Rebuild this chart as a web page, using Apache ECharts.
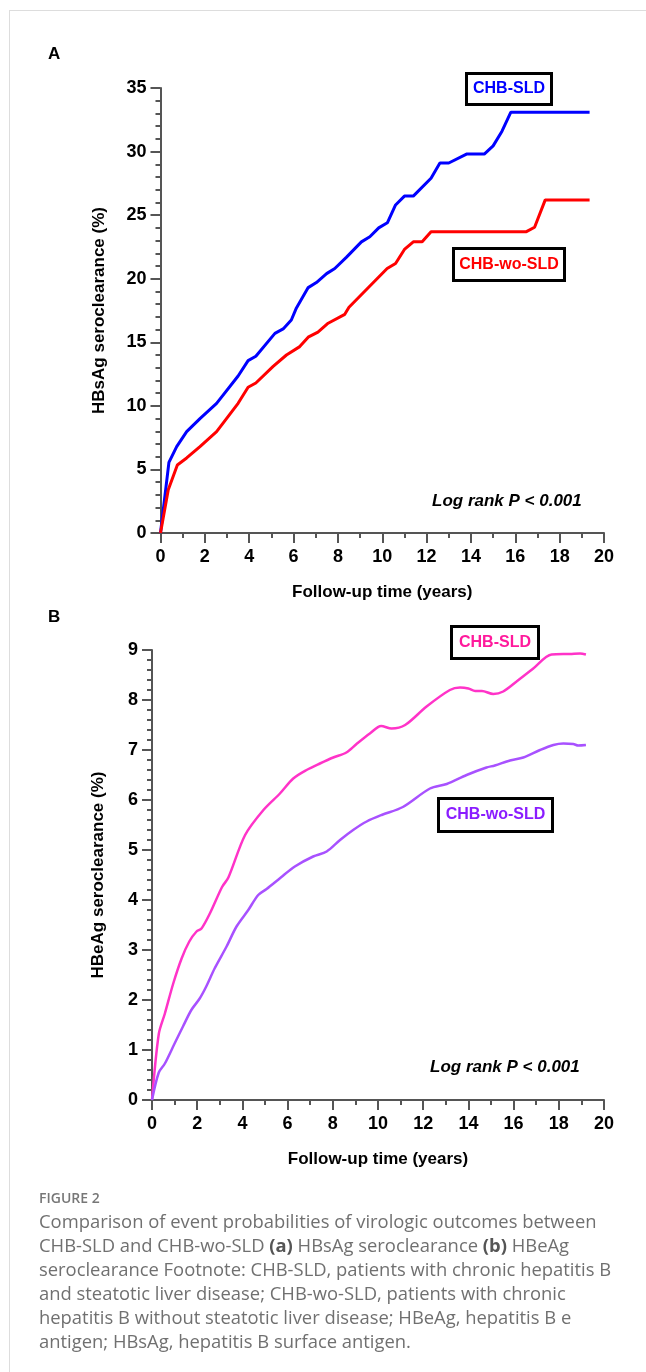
<!DOCTYPE html>
<html>
<head>
<meta charset="utf-8">
<script src="https://cdn.jsdelivr.net/npm/echarts@6/dist/echarts.min.js"></script>
<style>
  body { margin: 0; background: #fff; }
  #frame { position: absolute; left: 9px; top: 10px; width: 700px; height: 1400px; border-left: 1px solid #ddd; border-top: 1px solid #ddd; }
  #chart { position: absolute; left: 0; top: 0; width: 646px; height: 1372px; }
  #caption { position: absolute; left: 39px; top: 1188px; font-family: "Open Sans", "Noto Sans", sans-serif; color: #707070; }
  #caption .fig { font-size: 14px; font-weight: 600; color: #777; line-height: 20px; }
  #caption .txt { font-size: 18.4px; line-height: 24px; margin-top: 1px; white-space: nowrap; }
  #caption b { font-weight: 700; color: #555; }
</style>
</head>
<body>
<div id="frame"></div>
<div id="chart"></div>
<div id="caption">
  <div class="fig">FIGURE 2</div>
  <div class="txt">Comparison of event probabilities of virologic outcomes between<br>CHB-SLD and CHB-wo-SLD <b>(a)</b> HBsAg seroclearance <b>(b)</b> HBeAg<br>seroclearance Footnote: CHB-SLD, patients with chronic hepatitis B<br>and steatotic liver disease; CHB-wo-SLD, patients with chronic<br>hepatitis B without steatotic liver disease; HBeAg, hepatitis B e<br>antigen; HBsAg, hepatitis B surface antigen.</div>
</div>
<script>
// panel A - HBsAg seroclearance (%)
var timeA_sld = [0, 0.38, 0.73, 1.18, 1.78, 2.53, 3.5, 3.95, 4.3, 5.16, 5.53, 5.9, 6.13, 6.66, 7.03, 7.49, 7.86, 8.39, 9.06, 9.44, 9.84, 10.23, 10.6, 11.0, 11.4, 12.2, 12.6, 13.0, 13.8, 14.6, 15.0, 15.4, 15.8, 19.35];
var valA_sld  = [0, 5.56, 6.8, 7.97, 9.0, 10.2, 12.35, 13.56, 13.9, 15.7, 16.05, 16.75, 17.7, 19.3, 19.7, 20.4, 20.8, 21.7, 22.9, 23.3, 24.0, 24.4, 25.8, 26.5, 26.5, 27.9, 29.1, 29.1, 29.8, 29.8, 30.45, 31.6, 33.1, 33.1];
var timeA_wo  = [0, 0.35, 0.76, 1.18, 1.78, 2.53, 3.5, 3.95, 4.3, 5.08, 5.68, 6.28, 6.66, 7.1, 7.56, 8.31, 8.5, 10.22, 10.6, 11.0, 11.4, 11.8, 12.2, 16.5, 16.87, 17.35, 19.35];
var valA_wo   = [0, 3.4, 5.35, 5.9, 6.8, 7.97, 10.2, 11.46, 11.8, 13.1, 14.0, 14.66, 15.4, 15.8, 16.5, 17.2, 17.75, 20.8, 21.2, 22.3, 22.9, 22.9, 23.7, 23.7, 24.05, 26.2, 26.2];

// panel B - HBeAg seroclearance (%)
var timeB_sld = [0, 0.3, 0.57, 0.94, 1.31, 1.65, 1.97, 2.19, 2.56, 3.1, 3.38, 4.12, 4.93, 5.66, 6.25, 6.84, 7.43, 8.02, 8.6, 9.05, 9.64, 10.14, 10.6, 11.2, 12.15, 13.18, 13.63, 14.0, 14.3, 14.6, 15.1, 15.54, 16.13, 16.87, 17.68, 18.5, 18.94, 19.2];
var valB_sld  = [0, 1.32, 1.73, 2.33, 2.83, 3.17, 3.37, 3.43, 3.73, 4.26, 4.45, 5.3, 5.8, 6.13, 6.43, 6.6, 6.73, 6.85, 6.95, 7.12, 7.33, 7.48, 7.43, 7.5, 7.87, 8.2, 8.25, 8.23, 8.18, 8.18, 8.12, 8.17, 8.37, 8.63, 8.91, 8.92, 8.93, 8.91];
var timeB_wo  = [0, 0.3, 0.57, 1.0, 1.37, 1.74, 2.11, 2.4, 2.77, 3.3, 3.74, 4.26, 4.7, 5.07, 5.7, 6.32, 7.13, 7.73, 8.32, 8.9, 9.5, 10.16, 11.1, 12.3, 13.04, 13.92, 14.8, 15.17, 15.84, 16.43, 17.17, 17.76, 18.2, 18.64, 18.86, 19.2];
var valB_wo   = [0, 0.55, 0.73, 1.13, 1.47, 1.8, 2.03, 2.27, 2.63, 3.07, 3.47, 3.8, 4.1, 4.22, 4.45, 4.67, 4.87, 4.97, 5.2, 5.4, 5.57, 5.7, 5.86, 6.23, 6.32, 6.5, 6.65, 6.69, 6.79, 6.85, 7.0, 7.1, 7.13, 7.12, 7.09, 7.1];

var xTicks = [0, 2, 4, 6, 8, 10, 12, 14, 16, 18, 20];

function pairs(t, v) {
  return t.map(function(x, i) { return [x, v[i]]; });
}

var font = 'Arial, "Liberation Sans", sans-serif';
var axisCol = '#555';

function xAx(idx) {
  return {
    type: 'value', gridIndex: idx, min: 0, max: 20, interval: 2,
    name: 'Follow-up time (years)', nameLocation: 'middle', nameGap: 51,
    nameTextStyle: { fontFamily: font, fontWeight: 'bold', fontSize: 17, color: '#000' },
    axisLine: { show: true, onZero: false, lineStyle: { color: axisCol, width: 2 } },
    axisTick: { show: true, length: 10, inside: false, lineStyle: { color: axisCol, width: 2 } },
    minorTick: { show: true, splitNumber: 2, length: 5, lineStyle: { color: axisCol, width: 2 } },
    splitLine: { show: false },
    axisLabel: { fontFamily: font, fontWeight: 'bold', fontSize: 18, color: '#000', margin: 15,
      formatter: function(v) { return xTicks.indexOf(v) >= 0 ? String(v) : ''; } }
  };
}
function yAx(idx, max, name, gap) {
  return {
    type: 'value', gridIndex: idx, min: 0, max: max, interval: max > 10 ? 5 : 1,
    name: name, nameLocation: 'middle', nameGap: gap,
    nameTextStyle: { fontFamily: font, fontWeight: 'bold', fontSize: 17, color: '#000' },
    axisLine: { show: true, lineStyle: { color: axisCol, width: 2 } },
    axisTick: { show: true, length: 10, lineStyle: { color: axisCol, width: 2 } },
    minorTick: { show: true, splitNumber: 5, length: 5, lineStyle: { color: axisCol, width: 2 } },
    splitLine: { show: false },
    axisLabel: { fontFamily: font, fontWeight: 'bold', fontSize: 18, color: '#000', margin: 14 }
  };
}

function legendBox(x, y, w, h, text, color) {
  return {
    type: 'group', left: x, top: y,
    children: [
      { type: 'rect', shape: { x: 0, y: 0, width: w, height: h }, style: { fill: '#fff', stroke: '#000', lineWidth: 3 } },
      { type: 'text', x: w / 2, y: h / 2, style: { text: text, fill: color, font: 'bold 16px ' + font, align: 'center', verticalAlign: 'middle' } }
    ]
  };
}

var chart = echarts.init(document.getElementById('chart'));
var option = {
  animation: false,
  grid: [
    { left: 160.5, top: 88, width: 443.5, height: 445 },
    { left: 152, top: 650, width: 452, height: 450 }
  ],
  xAxis: [xAx(0), xAx(1)],
  yAxis: [yAx(0, 35, 'HBsAg seroclearance (%)', 53), yAx(1, 9, 'HBeAg seroclearance (%)', 45)],
  series: [
    { name: 'CHB-SLD', type: 'line', xAxisIndex: 0, yAxisIndex: 0, data: pairs(timeA_sld, valA_sld), showSymbol: false, lineStyle: { color: '#0000ff', width: 3 }, z: 3 },
    { name: 'CHB-wo-SLD', type: 'line', xAxisIndex: 0, yAxisIndex: 0, data: pairs(timeA_wo, valA_wo), showSymbol: false, lineStyle: { color: '#ff0000', width: 3 }, z: 3 },
    { name: 'CHB-SLD', type: 'line', xAxisIndex: 1, yAxisIndex: 1, data: pairs(timeB_sld, valB_sld), smooth: 0.3, showSymbol: false, lineStyle: { color: '#ff33c8', width: 2.5 }, z: 3 },
    { name: 'CHB-wo-SLD', type: 'line', xAxisIndex: 1, yAxisIndex: 1, data: pairs(timeB_wo, valB_wo), smooth: 0.3, showSymbol: false, lineStyle: { color: '#a851ff', width: 2.5 }, z: 3 }
  ],
  graphic: [
    { type: 'text', left: 48, top: 46, style: { text: 'A', font: 'bold 17px ' + font, fill: '#000' } },
    { type: 'text', left: 48, top: 609, style: { text: 'B', font: 'bold 17px ' + font, fill: '#000' } },
    legendBox(465, 72, 85, 31, 'CHB-SLD', '#0000ff'),
    legendBox(452, 247, 111, 32, 'CHB-wo-SLD', '#ff0000'),
    legendBox(450, 625, 87, 32, 'CHB-SLD', '#ff1a9c'),
    legendBox(437, 797, 114, 33, 'CHB-wo-SLD', '#8a1cff'),
    { type: 'text', left: 432, top: 493, style: { text: 'Log rank P < 0.001', font: 'italic bold 17px ' + font, fill: '#000' } },
    { type: 'text', left: 430, top: 1059, style: { text: 'Log rank P < 0.001', font: 'italic bold 17px ' + font, fill: '#000' } }
  ]
};
chart.setOption(option);
</script>
</body>
</html>
